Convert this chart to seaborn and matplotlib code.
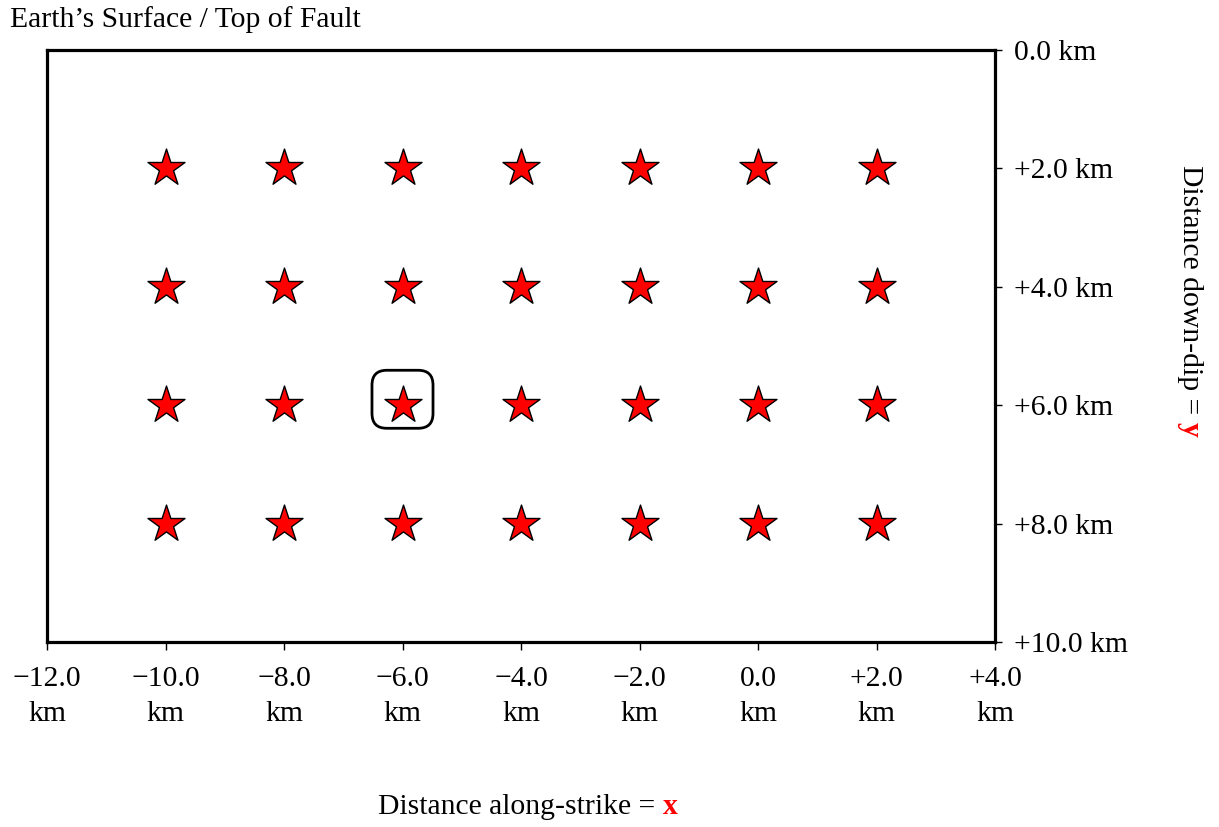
import numpy as np
import pandas as pd
import matplotlib
matplotlib.use("Agg")
import matplotlib.pyplot as plt
import seaborn as sns
from matplotlib.patches import FancyBboxPatch

# ---- data ----
strike_positions = [-10.0, -8.0, -6.0, -4.0, -2.0, 0.0, 2.0]
dip_positions = [2.0, 4.0, 6.0, 8.0]
highlight_x = -6.0
highlight_y = 6.0
x_ticks = [-12.0, -10.0, -8.0, -6.0, -4.0, -2.0, 0.0, 2.0, 4.0]
y_ticks = [0.0, 2.0, 4.0, 6.0, 8.0, 10.0]
title_text = "Earth\u2019s Surface / Top of Fault"
xlabel_text = "Distance along-strike = "
ylabel_text = "Distance down-dip = "

rows = [(x, y) for y in dip_positions for x in strike_positions]
df = pd.DataFrame(rows, columns=["x", "y"])

sns.set_theme(style="white")
plt.rcParams["font.family"] = ["Liberation Serif", "DejaVu Serif"]
plt.rcParams["text.color"] = "black"
plt.rcParams["axes.labelcolor"] = "black"
plt.rcParams["xtick.color"] = "black"
plt.rcParams["ytick.color"] = "black"

FS = 21.3

fig = plt.figure(figsize=(12.19, 8.27), dpi=100)
ax = fig.add_axes([47 / 1219, 1 - 642 / 827, 948 / 1219, 592 / 827])

sns.scatterplot(data=df, x="x", y="y", marker="*", s=28 ** 2, color="red",
                edgecolor="black", linewidth=1.0, ax=ax, zorder=3, legend=False)

box_w, box_h = 1.03, 0.98
ax.add_patch(FancyBboxPatch((highlight_x - box_w / 2, highlight_y - 0.1 - box_h / 2),
                            box_w, box_h,
                            boxstyle="round,pad=0,rounding_size=0.25",
                            fill=False, edgecolor="black", linewidth=2.0, zorder=4))

ax.set_xlim(x_ticks[0], x_ticks[-1])
ax.set_ylim(y_ticks[-1], y_ticks[0])


def fmt(v, sep):
    if v > 0:
        s = "+%.1f" % v
    elif v < 0:
        s = "\u2212%.1f" % abs(v)
    else:
        s = "%.1f" % v
    return s + sep + "km"


ax.set_xticks(x_ticks)
ax.set_xticklabels([fmt(v, "\n") for v in x_ticks], linespacing=1.45)
ax.set_yticks(y_ticks)
ax.set_yticklabels([fmt(v, " ") for v in y_ticks])
ax.yaxis.tick_right()
ax.tick_params(axis="x", bottom=True, length=6, width=1, pad=11, labelsize=FS, colors="black")
ax.tick_params(axis="y", right=True, left=False, length=5, width=1, pad=9, labelsize=FS, colors="black")
for sp in ax.spines.values():
    sp.set_visible(True)
    sp.set_linewidth(2.3)
    sp.set_color("black")
ax.set_xlabel("")
ax.set_ylabel("")

fig.text(10 / 1219, 1 - 20 / 827, title_text, fontsize=FS, ha="left", va="center")

# bottom label with red bold x
t1 = fig.text(378 / 1219, 1 - 807 / 827, xlabel_text, fontsize=FS, ha="left", va="center")
fig.canvas.draw()
ax.annotate("x", xy=(1, 0), xycoords=t1, ha="left", va="bottom",
            fontsize=FS, color="red", fontweight="bold")

# right label with red bold y
t2 = fig.text(1190 / 1219, 1 - 165 / 827, ylabel_text, fontsize=FS, rotation=-90,
              ha="center", va="top")
fig.canvas.draw()
ax.annotate("y", xy=(0.5, 0), xycoords=t2, ha="center", va="top",
            fontsize=FS, color="red", fontweight="bold", rotation=-90)

fig.savefig("out.png", dpi=100)
